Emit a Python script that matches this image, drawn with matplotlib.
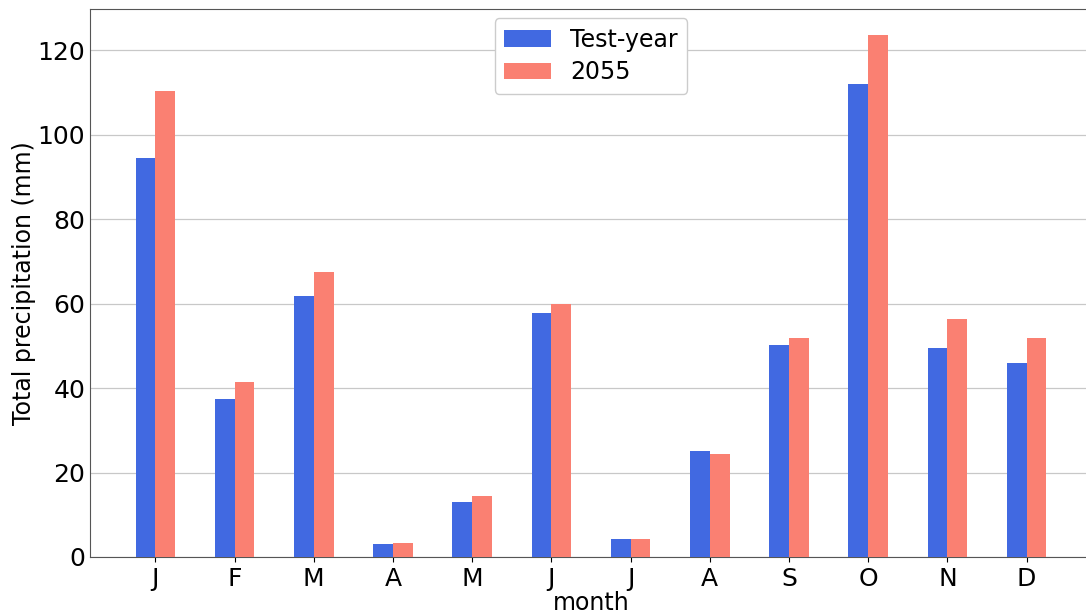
import numpy as np
import matplotlib
matplotlib.use('Agg')
import matplotlib.pyplot as plt

months = ['J', 'F', 'M', 'A', 'M', 'J', 'J', 'A', 'S', 'O', 'N', 'D']
test_year = [94.4, 37.4, 61.9, 3.1, 13.1, 57.8, 4.3, 25.0, 50.2, 112.0, 49.5, 46.0]
future_2055 = [110.3, 41.4, 67.4, 3.3, 14.5, 59.9, 4.3, 24.5, 51.8, 123.6, 56.4, 51.8]

x = np.arange(len(months))
w = 0.25

fig = plt.figure(figsize=(10.86, 6.15), dpi=100)
ax = fig.add_axes([90/1086, 58/615, 1002/1086, 548/615])

ax.bar(x - w/2, test_year, width=w, color='royalblue', label='Test-year', zorder=3)
ax.bar(x + w/2, future_2055, width=w, color='salmon', label='2055', zorder=3)

ax.set_xticks(x)
ax.set_xticklabels(months)
ax.set_xlabel('month', fontsize=17, labelpad=0)
ax.set_ylabel('Total precipitation (mm)', fontsize=17, labelpad=1)
ax.tick_params(axis='both', labelsize=18)
ax.tick_params(axis='y', length=0)
ax.grid(axis='y', color='#c8c8c8', linewidth=0.9, zorder=0)
ax.set_axisbelow(True)
for s in ax.spines.values():
    s.set_color('#555555')

ax.legend(loc='upper center', fontsize=17, framealpha=1, borderaxespad=0.4,
          labelspacing=0.35)

fig.savefig('out.png', dpi=100)
